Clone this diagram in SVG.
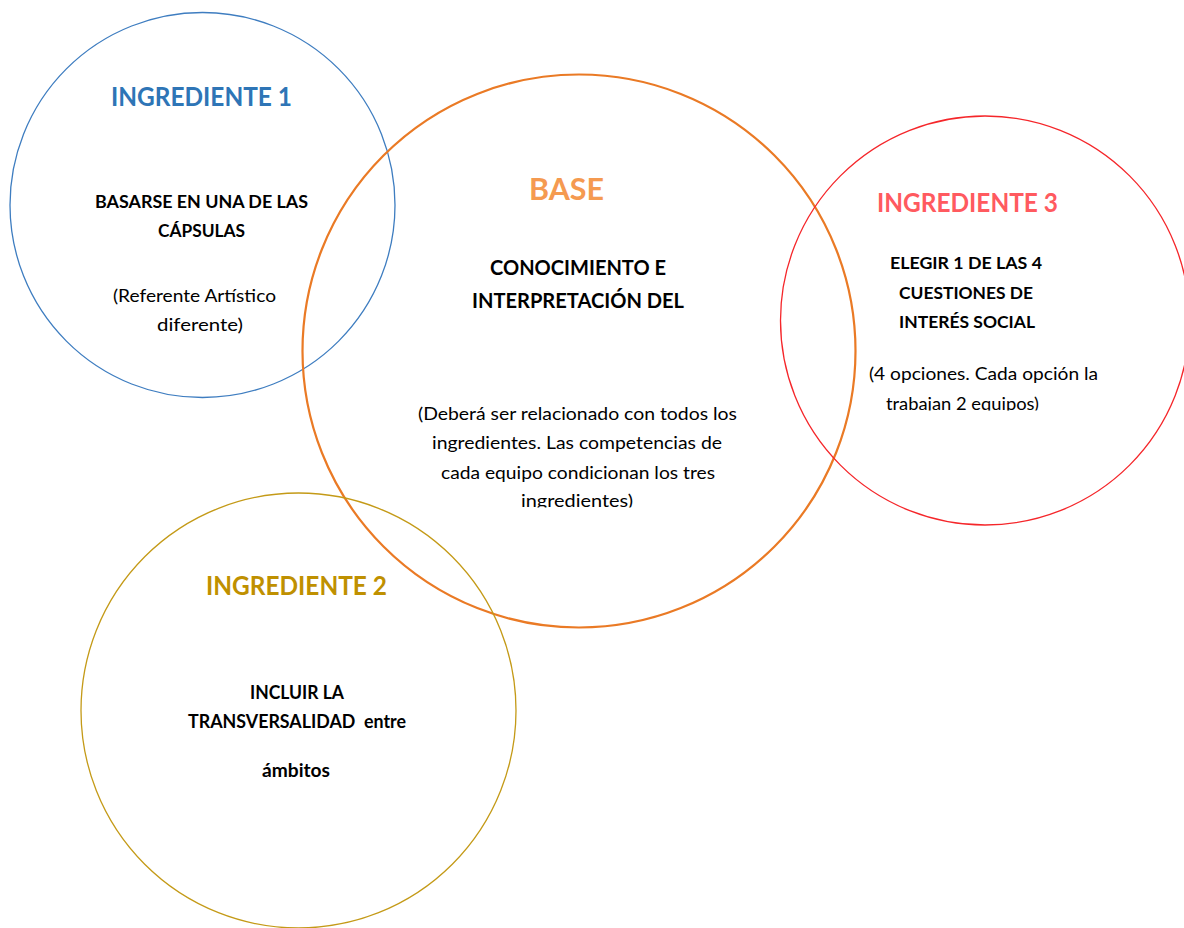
<svg xmlns="http://www.w3.org/2000/svg" width="1184" height="928" viewBox="0 0 1184 928">
<style>
  .ring { fill: none; }
  .t { font-family: Lato, "Open Sans", "Liberation Sans", sans-serif; }
  .title { font-size: 26px; font-weight: bold; }
  .b { font-weight: bold; fill: #000; }
  .r { font-weight: normal; fill: #000; }
</style>
<defs>
  <clipPath id="clipBase"><rect x="400" y="480" width="400" height="27.5"/></clipPath>
  <clipPath id="clipIng3"><rect x="850" y="390" width="250" height="20.5"/></clipPath>
</defs>
<rect x="0" y="0" width="1184" height="928" fill="#ffffff"/>

<g id="ingrediente1">
  <circle class="ring" cx="202.5" cy="205" r="192.5" stroke="#3E7DC0" stroke-width="1.3"/>
  <text class="t title" x="111" y="106" fill="#2E75B6" textLength="181" lengthAdjust="spacingAndGlyphs">INGREDIENTE 1</text>
  <text class="t b" x="95" y="208" font-size="16.5" textLength="213" lengthAdjust="spacingAndGlyphs">BASARSE EN UNA DE LAS</text>
  <text class="t b" x="158" y="237" font-size="16.5" textLength="87" lengthAdjust="spacingAndGlyphs">CÁPSULAS</text>
  <text class="t r" x="113" y="302" font-size="16.5" textLength="163" lengthAdjust="spacingAndGlyphs">(Referente Artístico</text>
  <text class="t r" x="157" y="331" font-size="16.5" textLength="86" lengthAdjust="spacingAndGlyphs">diferente)</text>
</g>

<g id="base">
  <circle class="ring" cx="579" cy="351" r="276.5" stroke="#EA7A25" stroke-width="2.2"/>
  <text class="t" x="529" y="200" font-size="30" font-weight="bold" fill="#F59A50" textLength="75" lengthAdjust="spacingAndGlyphs">BASE</text>
  <text class="t b" x="490" y="275" font-size="20.5" textLength="176" lengthAdjust="spacingAndGlyphs">CONOCIMIENTO E</text>
  <text class="t b" x="472" y="308" font-size="20.5" textLength="212" lengthAdjust="spacingAndGlyphs">INTERPRETACIÓN DEL</text>
  <text class="t r" x="418" y="420" font-size="17" textLength="319" lengthAdjust="spacingAndGlyphs">(Deberá ser relacionado con todos los</text>
  <text class="t r" x="432" y="448.5" font-size="17" textLength="290" lengthAdjust="spacingAndGlyphs">ingredientes. Las competencias de</text>
  <text class="t r" x="441" y="479" font-size="17" textLength="274" lengthAdjust="spacingAndGlyphs">cada equipo condicionan los tres</text>
  <text class="t r" x="521" y="507" font-size="17" textLength="112" lengthAdjust="spacingAndGlyphs" clip-path="url(#clipBase)">ingredientes)</text>
</g>

<g id="ingrediente3">
  <circle class="ring" cx="985" cy="320.5" r="204.5" stroke="#F5262A" stroke-width="1.3"/>
  <text class="t title" x="877" y="211.5" fill="#FF5A5F" textLength="181" lengthAdjust="spacingAndGlyphs">INGREDIENTE 3</text>
  <text class="t b" x="890" y="269" font-size="17" textLength="152" lengthAdjust="spacingAndGlyphs">ELEGIR 1 DE LAS 4</text>
  <text class="t b" x="899" y="299" font-size="17.5" textLength="134" lengthAdjust="spacingAndGlyphs">CUESTIONES DE</text>
  <text class="t b" x="899" y="328" font-size="17.5" textLength="136" lengthAdjust="spacingAndGlyphs">INTERÉS SOCIAL</text>
  <text class="t r" x="869" y="380" font-size="16.5" textLength="229" lengthAdjust="spacingAndGlyphs">(4 opciones. Cada opción la</text>
  <text class="t r" x="886" y="410" font-size="16.5" textLength="153" lengthAdjust="spacingAndGlyphs" clip-path="url(#clipIng3)">trabajan 2 equipos)</text>
</g>

<g id="ingrediente2">
  <circle class="ring" cx="298.5" cy="710.5" r="217.5" stroke="#C49A17" stroke-width="1.3"/>
  <text class="t title" x="206" y="595" fill="#BF9000" textLength="181" lengthAdjust="spacingAndGlyphs">INGREDIENTE 2</text>
  <text class="t b" x="250" y="699" font-size="18" textLength="94" lengthAdjust="spacingAndGlyphs">INCLUIR LA</text>
  <text class="t b" x="188" y="728" font-size="18" textLength="218" lengthAdjust="spacingAndGlyphs" xml:space="preserve" style="white-space: pre">TRANSVERSALIDAD  entre</text>
  <text class="t b" x="262" y="777" font-size="18" textLength="68" lengthAdjust="spacingAndGlyphs">ámbitos</text>
</g>

<g id="connectors"></g>
</svg>
